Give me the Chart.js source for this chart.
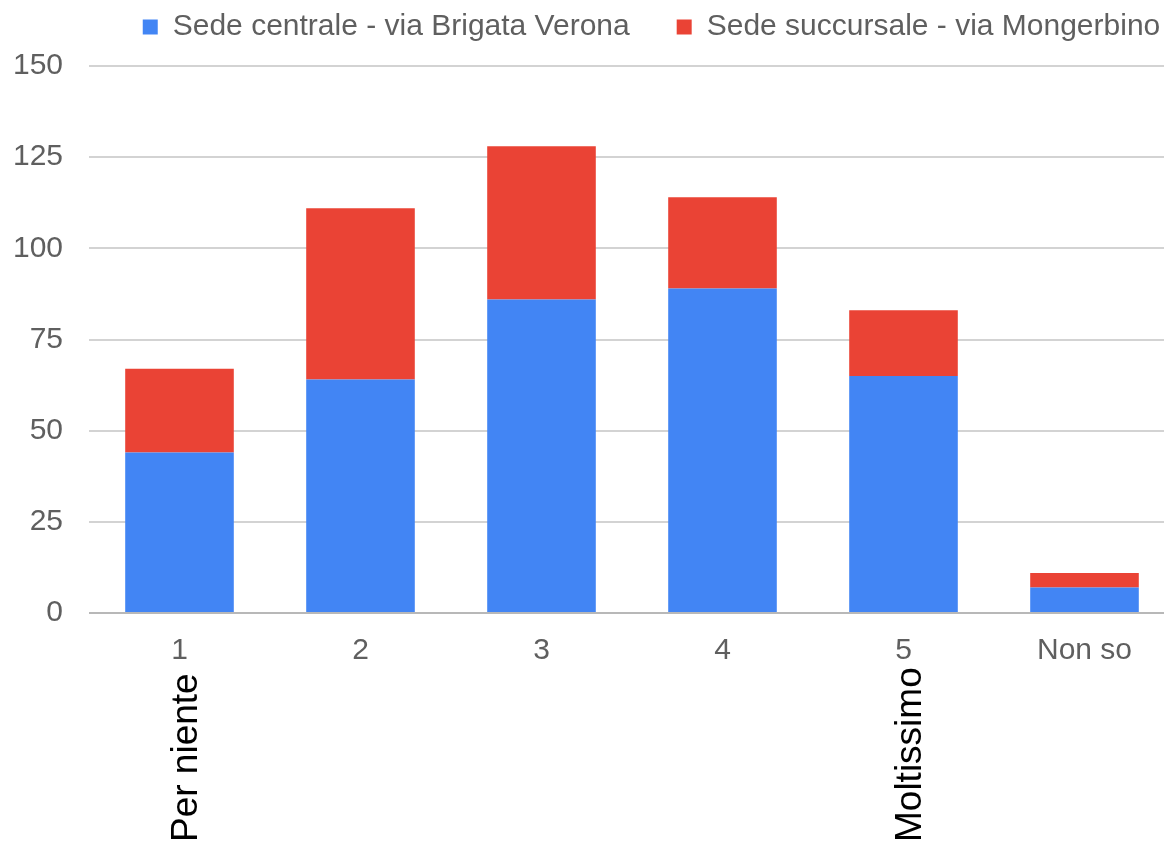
<!DOCTYPE html>
<html>
<head>
<meta charset="utf-8">
<script src="https://cdn.jsdelivr.net/npm/chart.js@4"></script>
<style>
  html, body { margin: 0; padding: 0; background: #fff; overflow: hidden; }
  #wrap { position: relative; width: 1303px; height: 849px; }
</style>
</head>
<body>
<div id="wrap"><canvas id="chart" width="1303" height="849"></canvas></div>
<script>
// Dati
const categories = ['1', '2', '3', '4', '5', 'Non so'];
const scaleLabels = ['Per niente', '', '', '', 'Moltissimo', ''];
const sedeCentrale = [44, 64, 86, 89, 65, 7];
const sedeSuccursale = [23, 47, 42, 25, 18, 4];
const yTicks = [0, 25, 50, 75, 100, 125, 150];

const FONT = '"Liberation Sans", Arial, sans-serif';
const GREY = '#5f5f5f';

// Etichette verticali sotto l'asse (estremi della scala)
const scaleEnds = {
  id: 'scaleEnds',
  afterDraw(chart) {
    const { ctx, scales: { x } } = chart;
    ctx.save();
    ctx.font = '37px ' + FONT;
    ctx.fillStyle = '#000';
    ctx.textAlign = 'left';
    ctx.textBaseline = 'middle';
    scaleLabels.forEach((txt, i) => {
      if (!txt) return;
      ctx.save();
      ctx.translate(x.getPixelForValue(i) + 7, 842);
      ctx.rotate(-Math.PI / 2);
      ctx.fillText(txt, 0, 0);
      ctx.restore();
    });
    ctx.restore();
  }
};

new Chart(document.getElementById('chart'), {
  type: 'bar',
  data: {
    labels: categories,
    datasets: [
      {
        label: 'Sede centrale - via Brigata Verona',
        data: sedeCentrale,
        backgroundColor: '#4285f4',
        xAxisID: 'x',
        yAxisID: 'y',
      },
      {
        label: 'Sede succursale - via Mongerbino',
        data: sedeSuccursale,
        backgroundColor: '#ea4335',
        xAxisID: 'x',
        yAxisID: 'y',
      },
    ],
  },
  options: {
    responsive: false,
    animation: false,
    layout: { padding: { top: -35, left: 0, right: 0, bottom: 160 } },
    datasets: { bar: { categoryPercentage: 1, barPercentage: 0.6 } },
    plugins: {
      tooltip: { enabled: false },
      legend: {
        position: 'top',
        align: 'center',
        labels: {
          boxWidth: 15,
          boxHeight: 15,
          padding: 47,
          color: GREY,
          font: { family: FONT, size: 30 },
        },
      },
    },
    scales: {
      x: {
        stacked: true,
        grid: { display: false, drawTicks: false },
        border: { display: false },
        ticks: { color: GREY, padding: 20, font: { family: FONT, size: 30 } },
      },
      y: {
        stacked: true,
        min: yTicks[0],
        max: yTicks[yTicks.length - 1],
        grid: {
          drawTicks: false,
          lineWidth: 2,
          color: (c) => (c.tick && c.tick.value === 0 ? '#b8b8b8' : '#d3d3d3'),
        },
        border: { display: false },
        ticks: {
          stepSize: yTicks[1] - yTicks[0],
          color: GREY,
          padding: 26,
          font: { family: FONT, size: 30 },
        },
        afterFit(scale) { scale.width = 89; },
      },
      // spaziatori invisibili per la disposizione
      top: {
        type: 'linear',
        position: 'top',
        grid: { display: false, drawTicks: false },
        border: { display: false },
        ticks: { display: false },
        afterFit(scale) { scale.height = 14; },
      },
      side: {
        type: 'linear',
        position: 'right',
        grid: { display: false, drawTicks: false },
        border: { display: false },
        ticks: { display: false },
        afterFit(scale) { scale.width = 128; },
      },
    },
  },
  plugins: [scaleEnds],
});
</script>
</body>
</html>
